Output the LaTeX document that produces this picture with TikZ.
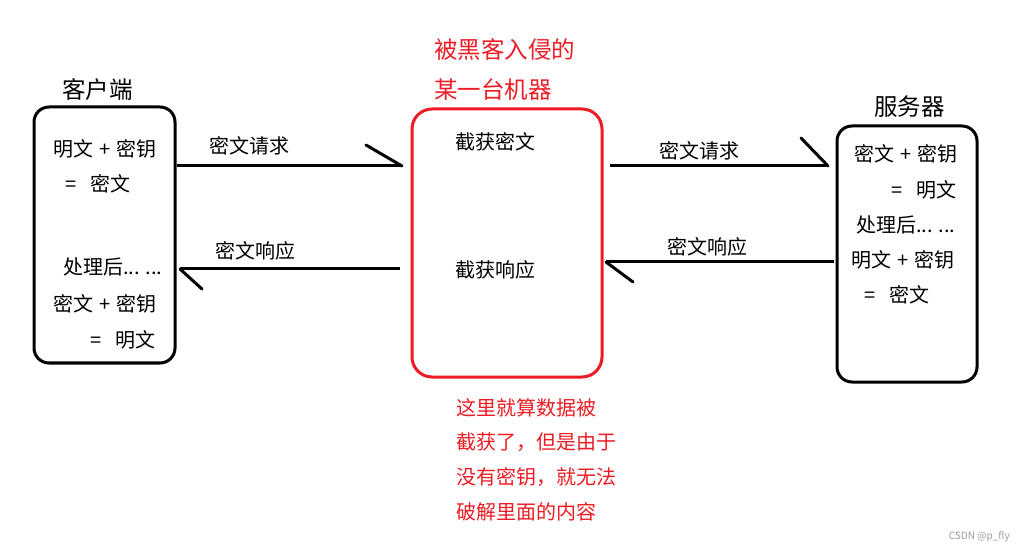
\documentclass[tikz,border=0pt]{standalone}
\usepackage{fontspec}
\setmainfont{Noto Sans CJK SC}
\definecolor{pred}{HTML}{ED1C24}
\definecolor{wm}{HTML}{9A9A9A}
\newcommand{\plusgap}{\hspace{6pt}+\hspace{6pt}}
\newcommand{\eqgap}{=\hspace{14pt}}
\begin{document}
\begin{tikzpicture}[x=1pt,y=-1pt,
  box/.style={draw=black,line width=3pt,rounded corners=15pt,inner sep=0pt},
  redbox/.style={draw=pred,line width=3pt,rounded corners=20pt,inner sep=0pt},
  txt/.style={font=\fontsize{20}{20}\selectfont,anchor=west,inner sep=0pt},
  ttl/.style={font=\fontsize{23.5}{23.5}\selectfont,anchor=west,inner sep=0pt},
  rtxt/.style={font=\fontsize{20}{20}\selectfont,anchor=west,inner sep=0pt,text=pred},
  conn/.style={line width=3pt},
  barb/.style={line width=3pt,line cap=round}]
\useasboundingbox (0,0) rectangle (1023,553);
\fill[white] (0,0) rectangle (1023,553);
% boxes
\node[box,minimum width=141pt,minimum height=256pt] (client) at (104.5,235) {};
\node[redbox,minimum width=190pt,minimum height=268pt] (hack) at (507,243) {};
\node[box,minimum width=140pt,minimum height=256pt] (server) at (907,254) {};
% titles
\node[ttl] (tc) at (62,90) {客户端};
\node[ttl] (ts) at (874,107) {服务器};
\node[ttl,text=pred] (th1) at (434,50) {被黑客入侵的};
\node[ttl,text=pred] (th2) at (434,90) {某一台机器};
% client text
\node[txt] (c1) at (53,149) {明文\plusgap 密钥};
\node[txt] (c2) at (65,184) {\eqgap 密文};
\node[txt] (c3) at (63,267) {处理后... ...};
\node[txt] (c4) at (53,304) {密文\plusgap 密钥};
\node[txt] (c5) at (90,340) {\eqgap 明文};
% hacker text
\node[txt] (h1) at (455,142) {截获密文};
\node[txt] (h2) at (455,270) {截获响应};
% server text
\node[txt] (s1) at (854,154) {密文\plusgap 密钥};
\node[txt] (s2) at (891,190) {\eqgap 明文};
\node[txt] (s3) at (856,225) {处理后... ...};
\node[txt] (s4) at (851,260) {明文\plusgap 密钥};
\node[txt] (s5) at (864,295) {\eqgap 密文};
% note
\node[rtxt] (n1) at (456,408) {这里就算数据被};
\node[rtxt] (n2) at (456,442) {截获了，但是由于};
\node[rtxt] (n3) at (456,477) {没有密钥，就无法};
\node[rtxt] (n4) at (456,512) {破解里面的内容};
% connectors
\coordinate (a1s) at (177,166); \coordinate (a1e) at (402,166); \coordinate (a1b) at (366,145);
\coordinate (a2s) at (400,269); \coordinate (a2e) at (180,269); \coordinate (a2b) at (202,289);
\coordinate (a3s) at (610,166); \coordinate (a3e) at (828,166); \coordinate (a3b) at (801,138);
\coordinate (a4s) at (834,262); \coordinate (a4e) at (606,262); \coordinate (a4b) at (633,282);
\draw[conn] (a1s) -- (a1e); \draw[barb] (a1b) -- (a1e);
\draw[conn] (a2s) -- (a2e); \draw[barb] (a2e) -- (a2b);
\draw[conn] (a3s) -- (a3e); \draw[barb] (a3b) -- (a3e);
\draw[conn] (a4s) -- (a4e); \draw[barb] (a4e) -- (a4b);
% connector labels
\node[txt] (l1) at (209,146) {密文请求};
\node[txt] (l2) at (215,251) {密文响应};
\node[txt] (l3) at (659,151) {密文请求};
\node[txt] (l4) at (667,247) {密文响应};
% watermark
\node[font=\fontsize{10}{10}\selectfont,text=wm,anchor=east,inner sep=0pt] (wmk) at (1010,537) {CSDN @p\_fly};
\end{tikzpicture}
\end{document}
